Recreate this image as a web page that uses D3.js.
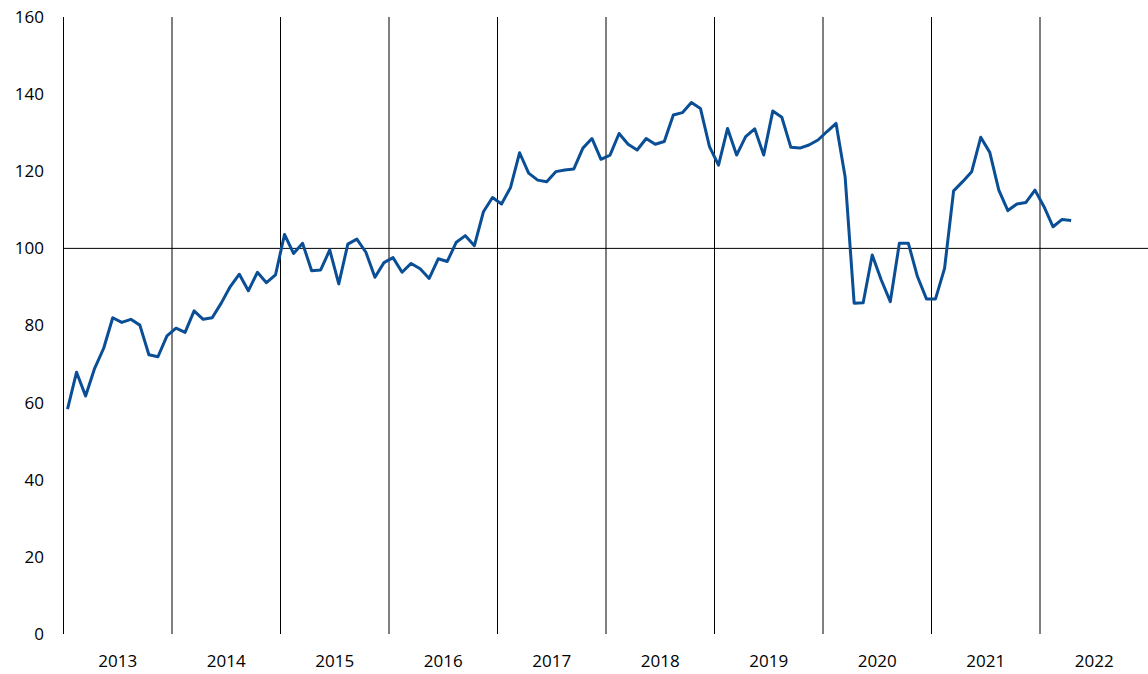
<!DOCTYPE html>
<html>
<head>
<meta charset="utf-8">
<script src="https://cdn.jsdelivr.net/npm/d3@7"></script>
<style>
  body { margin: 0; background: #fff; }
  text { font-family: "Open Sans", "Liberation Sans", sans-serif; }
</style>
</head>
<body>
<div id="chart"></div>
<script>
// Data (monthly index, Jan 2013 - Apr 2022)
const years = ["2013","2014","2015","2016","2017","2018","2019","2020","2021","2022"];
const v2013 = [58.3, 67.9, 61.7, 68.9, 74.1, 82.0, 80.8, 81.6, 80.1, 72.4, 71.9, 77.3];
const v2014 = [79.3, 78.2, 83.8, 81.6, 82.0, 85.8, 90.1, 93.3, 89.0, 93.8, 91.1, 93.1];
const v2015 = [103.6, 98.7, 101.3, 94.2, 94.4, 99.6, 90.8, 101.1, 102.4, 99.0, 92.5, 96.3];
const v2016 = [97.6, 93.8, 96.1, 94.7, 92.2, 97.3, 96.6, 101.6, 103.3, 100.7, 109.5, 113.2];
const v2017 = [111.5, 115.8, 124.8, 119.5, 117.7, 117.3, 119.9, 120.3, 120.6, 126.0, 128.5, 123.1];
const v2018 = [124.2, 129.8, 127.0, 125.5, 128.5, 127.0, 127.7, 134.6, 135.2, 137.8, 136.3, 126.4];
const v2019 = [121.6, 131.1, 124.2, 129.0, 131.0, 124.2, 135.6, 134.0, 126.2, 126.0, 126.8, 128.1];
const v2020 = [130.3, 132.4, 118.6, 85.8, 85.9, 98.3, 91.8, 86.2, 101.3, 101.3, 92.7, 86.9];
const v2021 = [86.9, 94.8, 114.9, 117.3, 119.9, 128.8, 124.9, 115.1, 109.8, 111.5, 111.9, 115.1];
const v2022 = [110.8, 105.6, 107.5, 107.2];
const yTicks = [0, 20, 40, 60, 80, 100, 120, 140, 160];

const values = [].concat(v2013, v2014, v2015, v2016, v2017, v2018, v2019, v2020, v2021, v2022);

const width = 1148, height = 674;
const xLeft = 63, xRight = 1148, yTop = 17, yBottom = 634;

const svg = d3.select("#chart").append("svg")
  .attr("width", width)
  .attr("height", height);

// scales: x in months from Jan 2013
const xScale = d3.scaleLinear().domain([0, years.length * 12]).range([xLeft, xRight]);
const yScale = d3.scaleLinear().domain([0, 160]).range([yBottom, yTop]);

// vertical year grid lines
const gridX = svg.append("g")
  .attr("transform", "translate(0," + yBottom + ")")
  .call(d3.axisBottom(xScale)
    .tickValues(d3.range(0, years.length * 12 + 1, 12))
    .tickSize(-(yBottom - yTop))
    .tickFormat(""));
gridX.select(".domain").remove();
gridX.selectAll("line").attr("stroke", "#000").attr("stroke-width", 1);

// year labels at mid year
const xLab = svg.append("g")
  .attr("transform", "translate(0," + yBottom + ")")
  .call(d3.axisBottom(xScale)
    .tickValues(years.map((y, i) => i * 12 + 6))
    .tickSize(0)
    .tickPadding(21)
    .tickFormat((d, i) => years[i]));
xLab.select(".domain").remove();
xLab.selectAll("text").attr("font-size", 17).attr("fill", "#000");

// y labels
const yAx = svg.append("g")
  .attr("transform", "translate(" + xLeft + ",0)")
  .call(d3.axisLeft(yScale)
    .tickValues(yTicks)
    .tickSize(0)
    .tickPadding(19));
yAx.select(".domain").remove();
yAx.selectAll("text").attr("font-size", 17).attr("fill", "#000");

// reference line at 100
svg.append("line")
  .attr("x1", xLeft).attr("x2", xRight)
  .attr("y1", yScale(100)).attr("y2", yScale(100))
  .attr("stroke", "#000")
  .attr("stroke-width", 1);

// Line
const line = d3.line()
  .x((d, i) => xScale(i + 0.5))
  .y(d => yScale(d));

svg.append("path")
  .datum(values)
  .attr("d", line)
  .attr("fill", "none")
  .attr("stroke", "#0a4f96")
  .attr("stroke-width", 3)
  .attr("stroke-linejoin", "round");
</script>
</body>
</html>
